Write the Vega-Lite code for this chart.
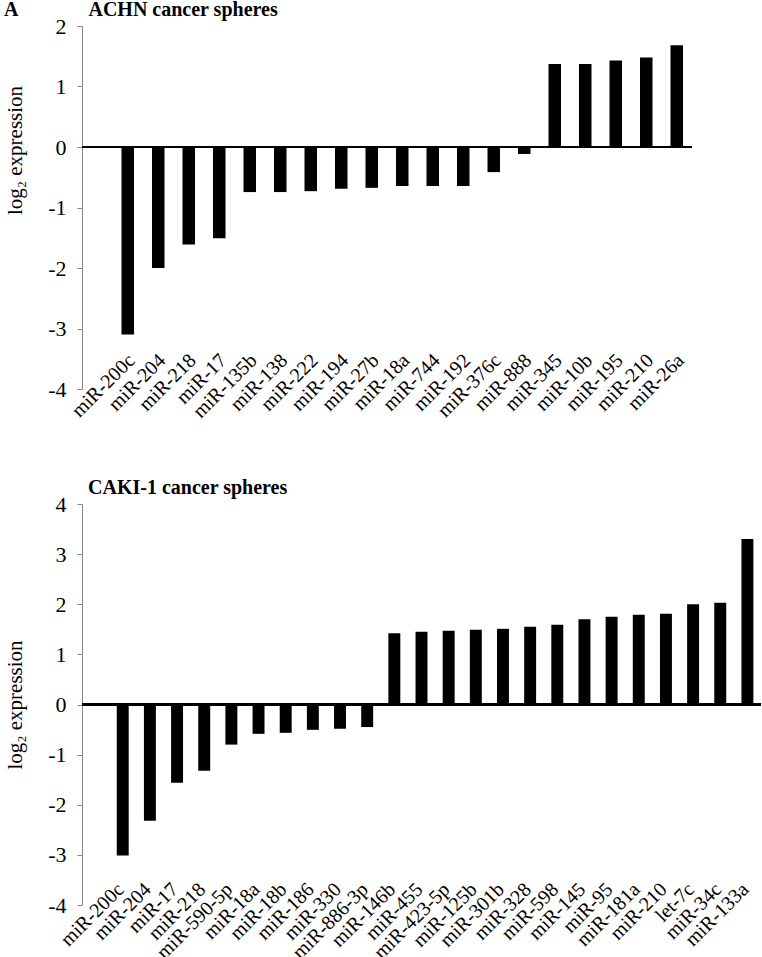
{
  "$schema": "https://vega.github.io/schema/vega-lite/v6.json",
  "background": "white",
  "padding": {"left": 3, "top": 0, "right": 0, "bottom": 0},
  "datasets": {
    "achn": [
      {"mirna": "miR-200c", "value": -3.1},
      {"mirna": "miR-204", "value": -2.0},
      {"mirna": "miR-218", "value": -1.61},
      {"mirna": "miR-17", "value": -1.51},
      {"mirna": "miR-135b", "value": -0.745},
      {"mirna": "miR-138", "value": -0.745},
      {"mirna": "miR-222", "value": -0.73},
      {"mirna": "miR-194", "value": -0.69},
      {"mirna": "miR-27b", "value": -0.675},
      {"mirna": "miR-18a", "value": -0.645},
      {"mirna": "miR-744", "value": -0.645},
      {"mirna": "miR-192", "value": -0.645},
      {"mirna": "miR-376c", "value": -0.415},
      {"mirna": "miR-888", "value": -0.115},
      {"mirna": "miR-345", "value": 1.37},
      {"mirna": "miR-10b", "value": 1.37},
      {"mirna": "miR-195", "value": 1.43},
      {"mirna": "miR-210", "value": 1.48},
      {"mirna": "miR-26a", "value": 1.68}
    ],
    "caki": [
      {"mirna": "miR-200c", "value": -3.01},
      {"mirna": "miR-204", "value": -2.32},
      {"mirna": "miR-17", "value": -1.56},
      {"mirna": "miR-218", "value": -1.32},
      {"mirna": "miR-590-5p", "value": -0.8},
      {"mirna": "miR-18a", "value": -0.585},
      {"mirna": "miR-18b", "value": -0.565},
      {"mirna": "miR-186", "value": -0.505},
      {"mirna": "miR-330", "value": -0.485},
      {"mirna": "miR-886-3p", "value": -0.45},
      {"mirna": "miR-146b", "value": 1.42},
      {"mirna": "miR-455", "value": 1.45},
      {"mirna": "miR-423-5p", "value": 1.47},
      {"mirna": "miR-125b", "value": 1.49},
      {"mirna": "miR-301b", "value": 1.51},
      {"mirna": "miR-328", "value": 1.55},
      {"mirna": "miR-598", "value": 1.59},
      {"mirna": "miR-145", "value": 1.7},
      {"mirna": "miR-95", "value": 1.75},
      {"mirna": "miR-181a", "value": 1.79},
      {"mirna": "miR-210", "value": 1.81},
      {"mirna": "let-7c", "value": 2.0},
      {"mirna": "miR-34c", "value": 2.03},
      {"mirna": "miR-133a", "value": 3.3}
    ]
  },
  "bounds": "flush",
  "spacing": 115,
  "vconcat": [
    {
      "width": 610,
      "height": 363,
      "data": {"name": "achn"},
      "title": {"text": "A\u00a0\u00a0\u00a0\u00a0\u00a0\u00a0\u00a0\u00a0\u00a0\u00a0\u00a0\u00a0\u00a0\u00a0ACHN cancer spheres", "anchor": "start", "frame": "group", "dx": -78, "offset": -5, "fontSize": 20, "fontWeight": "bold", "font": "Liberation Serif", "color": "black"},
      "layer": [
        {
          "mark": {"type": "bar", "color": "black"},
          "encoding": {
            "x": {
              "field": "mirna", "type": "nominal", "sort": null,
              "scale": {"paddingInner": 0.59, "paddingOuter": 0.795, "align": 0.8145},
              "axis": {"title": null, "domain": false, "ticks": false, "tickSize": 0, "labelAngle": -45, "labelAlign": "right", "labelBaseline": "middle", "labelOffset": 4, "labelPadding": -32, "labelFontSize": 20, "labelFont": "Liberation Serif", "labelColor": "black", "labelOverlap": false, "labelBound": false, "labelFlush": false, "labelLimit": 0}
            },
            "y": {
              "field": "value", "type": "quantitative",
              "scale": {"domain": [-4, 2], "nice": false},
              "axis": {"title": "log₂ expression", "values": [-4, -3, -2, -1, 0, 1, 2], "labelExpr": "datum.value < 0 ? '-' + abs(datum.value) : '' + datum.value", "grid": false, "domainColor": "#868686", "tickColor": "#868686", "tickSize": 5, "labelPadding": 11, "labelFontSize": 22, "labelFont": "Liberation Serif", "labelColor": "black", "titleFont": "Liberation Serif", "titleFontSize": 21, "titleFontWeight": "normal", "titleColor": "black", "titleX": -61, "titleY": 124, "titleBaseline": "alphabetic", "titleAlign": "center", "titleAngle": -90}
            }
          }
        },
        {
          "mark": {"type": "rule", "color": "black", "strokeWidth": 1.5},
          "encoding": {"y": {"datum": 0, "type": "quantitative"}}
        }
      ]
    },
    {
      "width": 679,
      "height": 401,
      "data": {"name": "caki"},
      "title": {"text": "CAKI-1 cancer spheres", "anchor": "start", "frame": "group", "dx": 6, "offset": -5, "fontSize": 20, "fontWeight": "bold", "font": "Liberation Serif", "color": "black"},
      "layer": [
        {
          "mark": {"type": "bar", "color": "black"},
          "encoding": {
            "x": {
              "field": "mirna", "type": "nominal", "sort": null,
              "scale": {"paddingInner": 0.56, "paddingOuter": 0.78, "align": 0.8205},
              "axis": {"title": null, "domain": false, "ticks": false, "tickSize": 0, "labelAngle": -45, "labelAlign": "right", "labelBaseline": "middle", "labelOffset": -2, "labelPadding": -19, "labelFontSize": 20, "labelFont": "Liberation Serif", "labelColor": "black", "labelOverlap": false, "labelBound": false, "labelFlush": false, "labelLimit": 0}
            },
            "y": {
              "field": "value", "type": "quantitative",
              "scale": {"domain": [-4, 4], "nice": false},
              "axis": {"title": "log₂ expression", "values": [-4, -3, -2, -1, 0, 1, 2, 3, 4], "labelExpr": "datum.value < 0 ? '-' + abs(datum.value) : '' + datum.value", "grid": false, "domainColor": "#868686", "tickColor": "#868686", "tickSize": 5, "labelPadding": 11, "labelFontSize": 22, "labelFont": "Liberation Serif", "labelColor": "black", "titleFont": "Liberation Serif", "titleFontSize": 21, "titleFontWeight": "normal", "titleColor": "black", "titleX": -61, "titleBaseline": "alphabetic", "titleAlign": "center", "titleAngle": -90}
            }
          }
        },
        {
          "mark": {"type": "rule", "color": "black", "strokeWidth": 1.5},
          "encoding": {"y": {"datum": 0, "type": "quantitative"}}
        }
      ]
    }
  ],
  "config": {"view": {"stroke": null}, "font": "Liberation Serif"}
}
